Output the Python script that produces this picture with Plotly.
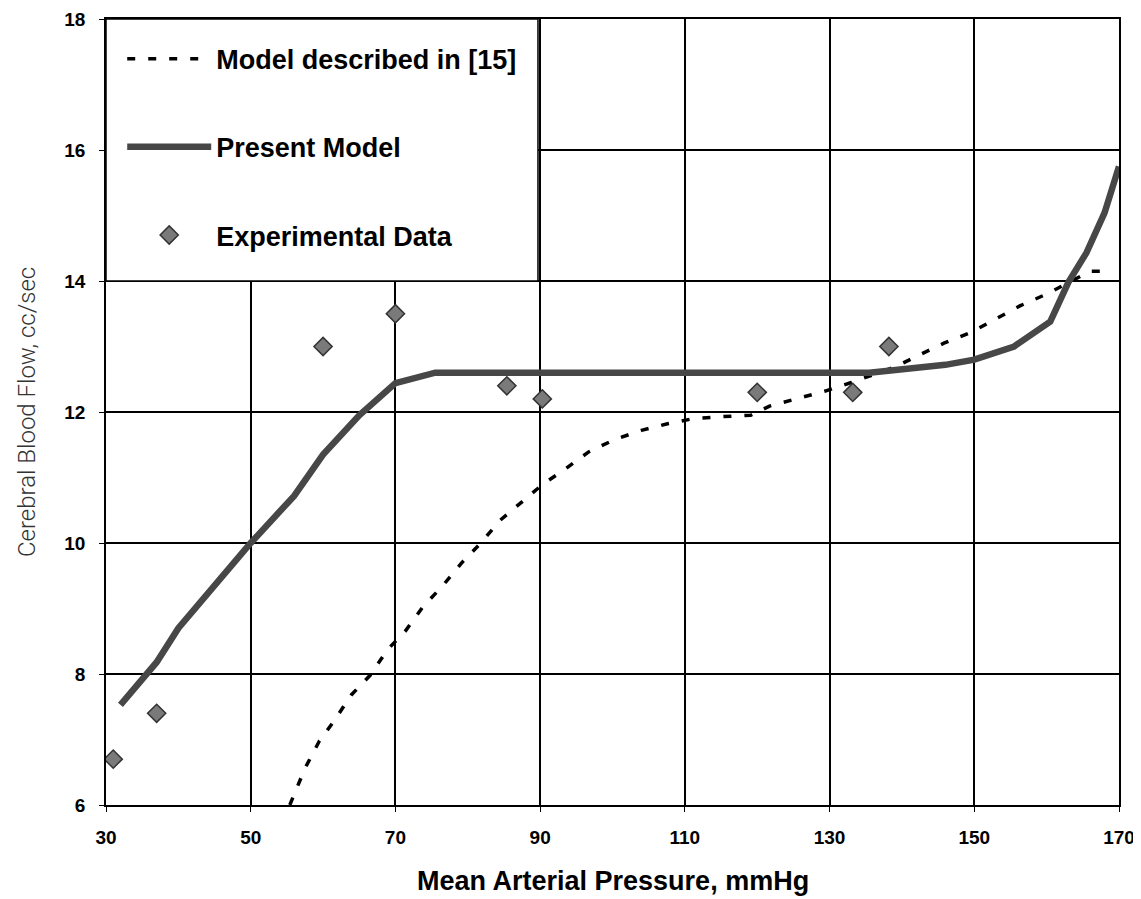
import plotly.graph_objects as go

# ---- data ----
model15_x = [55.4, 57.5, 59.5, 61.5, 63.9, 66.5, 68.9, 71.4, 73.9, 76.4, 79.1, 81.8, 84.5, 87.2,
             90.3, 93.6, 96.7, 100.3, 104.0, 107.6, 111.2, 115.3, 119.1, 121.7, 125.4, 129.4,
             133.0, 136.0, 139.1, 142.4, 145.8, 149.6, 153.0, 156.3, 160.2, 163.0, 166.0, 168.0]
model15_y = [6.0, 6.56, 6.98, 7.28, 7.68, 7.98, 8.37, 8.66, 9.04, 9.33, 9.69, 10.0, 10.35, 10.6,
             10.89, 11.14, 11.39, 11.58, 11.72, 11.82, 11.9, 11.93, 11.95, 12.09, 12.2, 12.32,
             12.45, 12.57, 12.69, 12.87, 13.05, 13.22, 13.42, 13.62, 13.81, 13.97, 14.15, 14.15]

present_x = [32, 37, 40, 50, 56, 60, 65, 70, 75.5, 135.5, 146, 150, 155.5, 160.5, 163, 165.5, 168, 170]
present_y = [7.53, 8.18, 8.7, 10.0, 10.72, 11.35, 11.95, 12.44, 12.6, 12.6, 12.72, 12.8, 13.0, 13.38,
             13.98, 14.43, 15.04, 15.75]

exp_x = [31, 37, 60, 70, 85.4, 90.3, 120, 133.2, 138.2]
exp_y = [6.7, 7.4, 13.0, 13.5, 12.4, 12.2, 12.3, 12.3, 13.0]

x_ticks = [30, 50, 70, 90, 110, 130, 150, 170]
y_ticks = [6, 8, 10, 12, 14, 16, 18]

x_title = "Mean Arterial Pressure, mmHg"
y_title = "Cerebral Blood Flow, cc/sec"

fig = go.Figure()
fig.add_trace(go.Scatter(
    x=model15_x, y=model15_y, mode="lines", name="Model described in [15]",
    legendgroup="a", line=dict(color="black", width=3.5, dash="8px,13px")))
fig.add_trace(go.Scatter(
    x=present_x, y=present_y, mode="lines", name="Present Model",
    legendgroup="b", line=dict(color="#474747", width=6.5)))
fig.add_trace(go.Scatter(
    x=exp_x, y=exp_y, mode="markers", name="Experimental Data", legendgroup="c",
    marker=dict(symbol="diamond", size=14, color="#7a7a7a", line=dict(color="#333333", width=1.5))))

axis_common = dict(showgrid=True, gridcolor="black", gridwidth=1.5, showline=True,
                   linecolor="black", linewidth=1.5, mirror=True, ticks="outside",
                   ticklen=5, tickcolor="black", zeroline=False, automargin=False,
                   tickfont=dict(family="Liberation Sans, Arial", size=19, color="black", weight="bold"))

fig.update_xaxes(range=[30, 170], tickvals=x_ticks, ticklabelstandoff=9, **axis_common)
fig.update_yaxes(range=[6, 18], tickvals=y_ticks, ticklabelstandoff=10, **axis_common)

# axis titles
fig.add_annotation(text=x_title, xref="paper", yref="paper", x=0.5, y=-0.097,
                   xanchor="center", yanchor="middle", showarrow=False,
                   font=dict(family="Liberation Sans, Arial", size=27, color="black", weight="bold"))
fig.add_annotation(text=y_title, xref="paper", yref="paper", x=-0.078, y=0.5,
                   xanchor="center", yanchor="middle", showarrow=False, textangle=-90,
                   font=dict(family="Roboto", size=24, color="#333333", weight=300))

# white legend box covering the grid
fig.add_shape(type="rect", xref="x", yref="y", x0=30, x1=89.7, y0=14, y1=18,
              fillcolor="white", line=dict(color="black", width=1.5), layer="above")

fig.update_layout(
    width=1133, height=891,
    margin=dict(l=98, r=22, t=11, b=94),
    plot_bgcolor="white", paper_bgcolor="white",
    showlegend=True,
    legend=dict(x=0.016, y=0.980, xanchor="left", yanchor="top",
                bgcolor="rgba(0,0,0,0)", borderwidth=0,
                traceorder="grouped", tracegroupgap=50, itemwidth=84,
                font=dict(family="Liberation Sans, Arial", size=27, color="black", weight="bold")),
)

fig.write_html("out.html")
